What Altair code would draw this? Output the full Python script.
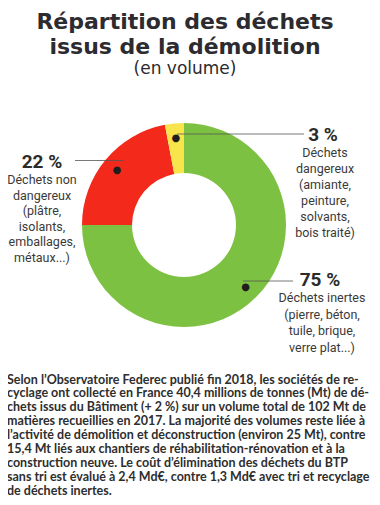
import altair as alt
import pandas as pd

# ---- data ----
categories = ["Déchets inertes", "Déchets non dangereux", "Déchets dangereux"]
shares = [75, 22, 3]
slice_order = [1, 2, 3]
colors = ["#7dc142", "#f3291b", "#f7e54b"]

title_lines = ["Répartition des déchets", "issus de la démolition"]
subtitle = "(en volume)"

pct_labels = ["75 %", "22 %", "3 %"]
desc_inertes = ["Déchets inertes", "(pierre, béton,", "tuile, brique,", "verre plat...)"]
desc_non_dang = ["Déchets non", "dangereux", "(plâtre,", "isolants,", "emballages,", "métaux...)"]
desc_dang = ["Déchets", "dangereux", "(amiante,", "peinture,", "solvants,", "bois traité)"]

paragraph = [
    "Selon l’Observatoire Federec publié fin 2018, les sociétés de re-",
    "cyclage ont collecté en France 40,4 millions de tonnes (Mt) de dé-",
    "chets issus du Bâtiment (+ 2 %) sur un volume total de 102 Mt de",
    "matières recueillies en 2017. La majorité des volumes reste liée à",
    "l’activité de démolition et déconstruction (environ 25 Mt), contre",
    "15,4 Mt liés aux chantiers de réhabilitation-rénovation et à la",
    "construction neuve. Le coût d’élimination des déchets du BTP",
    "sans tri est évalué à 2,4 Md€, contre 1,3 Md€ avec tri et recyclage",
    "de déchets inertes.",
]

OFF = 8  # page margin
def px(v):
    return v - OFF

W, H = 364, 489
CX, CY = px(184), px(225)

df = pd.DataFrame({"cat": categories, "share": shares, "ord": slice_order})

color_scale = alt.Scale(domain=categories, range=colors)

base = alt.Chart(df).encode(
    theta=alt.Theta("share:Q", stack=True),
    order=alt.Order("ord:Q"),
)

donut = base.mark_arc(outerRadius=102, innerRadius=52, stroke=None).encode(
    color=alt.Color("cat:N", scale=color_scale, legend=None),
    x=alt.value(CX), y=alt.value(CY),
)

dots = base.mark_text(radius=87, text="●", fontSize=10, color="#1e1e1e",
                      font="DejaVu Sans").encode(
    x=alt.value(CX), y=alt.value(CY),
)

# leader lines
lines_df = pd.DataFrame({
    "x1": [px(75), px(177), px(243)],
    "x2": [px(124), px(304), px(293)],
    "y": [px(160.5), px(134), px(281)],
})
leaders = alt.Chart(lines_df).mark_rule(color="#555555", strokeWidth=0.8).encode(
    x=alt.X("x1:Q", scale=alt.Scale(domain=[0, W], range=[0, W]), axis=None),
    x2="x2:Q",
    y=alt.Y("y:Q", scale=alt.Scale(domain=[0, H], range=[0, H]), axis=None),
)

def text_layer(lines, x, y0, dy, size, weight="normal", font="Roboto",
               color="#3a3a3a", align="center", baseline="middle"):
    d = pd.DataFrame({"t": lines, "i": list(range(len(lines)))})
    return alt.Chart(d).transform_calculate(
        yy=f"{y0} + datum.i * {dy}"
    ).mark_text(
        align=align, baseline=baseline, fontSize=size, fontWeight=weight,
        font=font, color=color,
    ).encode(
        text="t:N",
        x=alt.value(x),
        y=alt.Y("yy:Q", scale=alt.Scale(domain=[0, H], range=[0, H]), axis=None),
    )

title = text_layer(title_lines, px(185), px(29), 25, 22, weight="bold", font="DejaVu Sans",
                   color="#2b2b30", baseline="alphabetic")
sub = text_layer([subtitle], px(185), px(73.5), 0, 17, font="DejaVu Sans", color="#2b2b30",
                 baseline="alphabetic")

pct_font = "Roboto"
p22 = text_layer([pct_labels[1]], px(42), px(162), 0, 19, weight="bold", font=pct_font, color="#2b2b2b")
p3 = text_layer([pct_labels[2]], px(323), px(135), 0, 19, weight="bold", font=pct_font, color="#2b2b2b")
p75 = text_layer([pct_labels[0]], px(320), px(280), 0, 19, weight="bold", font=pct_font, color="#2b2b2b")

d22 = text_layer(desc_non_dang, px(42), px(180), 15.5, 12.5)
d3 = text_layer(desc_dang, px(325), px(153), 16, 12.5)
d75 = text_layer(desc_inertes, px(322), px(298), 16.7, 12.5)

para = text_layer(paragraph, px(7), px(379.5), 13.9, 12.5, weight="bold", font="Lato",
                  color="#2e2e2e", align="left")

chart = alt.layer(
    donut, dots, leaders, title, sub, p22, p3, p75, d22, d3, d75, para
).resolve_scale(x="shared", y="shared").properties(
    width=W, height=H, padding=0, autosize=alt.AutoSizeParams(type="none"),
    background="white",
).configure_view(stroke=None)

chart.save("out.html", embed_options={"renderer": "svg", "actions": False})
